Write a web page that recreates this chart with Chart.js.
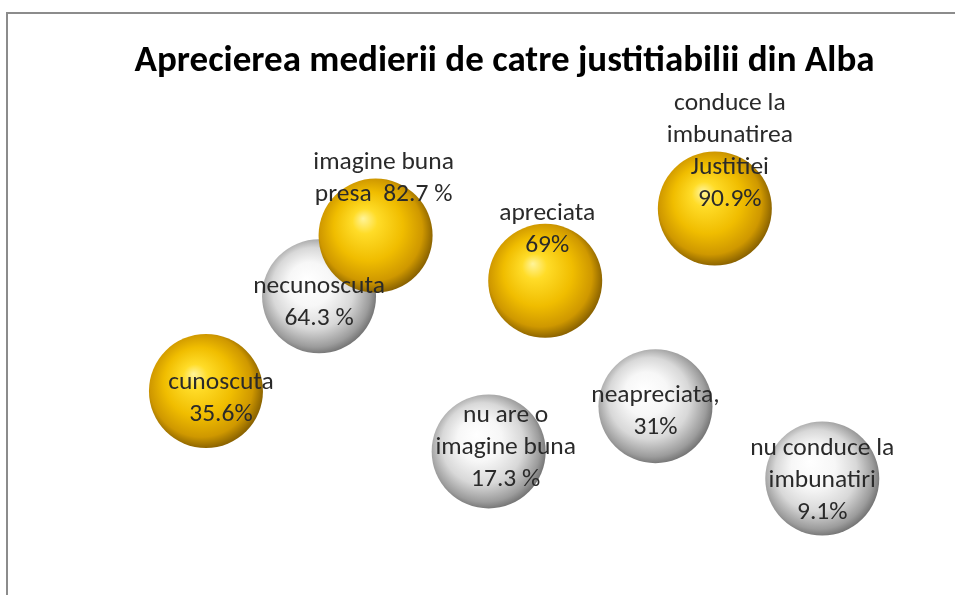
<!DOCTYPE html>
<html>
<head>
<meta charset="utf-8">
<script src="https://cdn.jsdelivr.net/npm/chart.js@4.4.1/dist/chart.umd.min.js"></script>
<style>
    html, body { margin: 0; padding: 0; background: #fff; overflow: hidden; }
    #frame { position: absolute; left: 6px; top: 12px; width: 1200px; height: 900px;
             border-top: 2px solid #8c8c8c; border-left: 2px solid #8c8c8c; }
    #wrap { position: absolute; left: 0; top: 0; width: 955px; height: 595px; }
</style>
</head>
<body>
<div id="frame"></div>
<div id="wrap"><canvas id="chart" width="955" height="595"></canvas></div>
<script>
// --- DATA ---
const chartTitle = 'Aprecierea medierii de catre justitiabilii din Alba';

// gold spheres (positive answers)
const goldX = [1, 4, 7, 10];
const goldValues = [35.6, 82.7, 69, 90.9];
const goldLabels = [
    ['cunoscuta', '35.6%'],
    ['imagine buna', 'presa  82.7 %'],
    ['apreciata', '69%'],
    ['conduce la', 'imbunatirea', 'Justitiei', '90.9%']
];

// white spheres (negative answers)
const whiteX = [3, 6, 8.95, 11.9];
const whiteValues = [64.3, 17.3, 31, 9.1];
const whiteLabels = [
    ['necunoscuta', '64.3 %'],
    ['nu are o', 'imagine buna', '17.3 %'],
    ['neapreciata,', '31%'],
    ['nu conduce la', 'imbunatiri', '9.1%']
];

// --- LABEL PLACEMENT (pixel nudges from sphere centre) ---
const goldNudge = [[15, 8], [8, -57], [2, -51], [15, -57]];
const whiteNudge = [[0, 6], [17, -4], [0, 5], [0, 2]];

const FONT = 'Carlito, Lato, "Open Sans", sans-serif';
const SPHERE_R = 57;

// Sphere shading via radial gradient at the bubble's pixel position
function sphereFill(stops) {
    return function(ctx) {
        const chart = ctx.chart;
        if (!chart.chartArea || ctx.type !== 'data') return stops[2][1];
        const raw = ctx.raw;
        const cx = chart.scales.x.getPixelForValue(raw.x);
        const cy = chart.scales.y.getPixelForValue(raw.y);
        const r = SPHERE_R;
        const g = chart.ctx.createRadialGradient(cx - 0.22 * r, cy - 0.3 * r, 0, cx - 0.05 * r, cy - 0.05 * r, 1.1 * r);
        stops.forEach(s => g.addColorStop(s[0], s[1]));
        return g;
    };
}

const goldStops = [[0, '#fff49a'], [0.2, '#ffdc28'], [0.55, '#f0bd00'], [0.82, '#cf9800'], [1, '#7d5800']];
const whiteStops = [[0, '#ffffff'], [0.35, '#f7f7f7'], [0.65, '#d8d8d8'], [0.88, '#9c9c9c'], [1, '#6a6a6a']];

// --- LABEL PLUGIN ---
const sphereLabels = {
    id: 'sphereLabels',
    afterDatasetsDraw(chart) {
        const c = chart.ctx;
        const sets = [[goldLabels, goldNudge], [whiteLabels, whiteNudge]];
        c.save();
        c.font = '25.5px ' + FONT;
        c.fillStyle = '#2a2a2a';
        c.textAlign = 'center';
        c.textBaseline = 'middle';
        sets.forEach((s, di) => {
            chart.getDatasetMeta(di).data.forEach((el, i) => {
                const lines = s[0][i];
                const cx = el.x + s[1][i][0];
                const cy = el.y + s[1][i][1];
                lines.forEach((t, k) => c.fillText(t, cx, cy + (k - (lines.length - 1) / 2) * 32));
            });
        });
        c.restore();
    }
};

// --- CHART ---
const toPoints = (xs, ys) => xs.map((x, i) => ({ x: x, y: ys[i] }));

new Chart(document.getElementById('chart'), {
    type: 'bubble',
    data: {
        datasets: [
            { label: 'da', data: toPoints(goldX, goldValues), radius: SPHERE_R, borderWidth: 0, clip: false,
              backgroundColor: sphereFill(goldStops) },
            { label: 'nu', data: toPoints(whiteX, whiteValues), radius: SPHERE_R, borderWidth: 0, clip: false,
              backgroundColor: sphereFill(whiteStops) }
        ]
    },
    options: {
        responsive: false, animation: false, events: [],
        layout: { autoPadding: false, padding: { left: 68, right: 14, top: 0, bottom: 86.5 } },
        scales: {
            x: { display: false, min: -1.44, max: 14 },
            y: { display: false, min: 0, max: 100 }
        },
        plugins: {
            legend: { display: false },
            tooltip: { enabled: false },
            title: {
                display: true, text: chartTitle, color: '#000',
                font: { family: FONT, size: 37, weight: 'bold', lineHeight: 1.2 },
                padding: { top: 39.8, bottom: 94.3 }
            }
        }
    },
    plugins: [sphereLabels]
});
</script>
</body>
</html>
